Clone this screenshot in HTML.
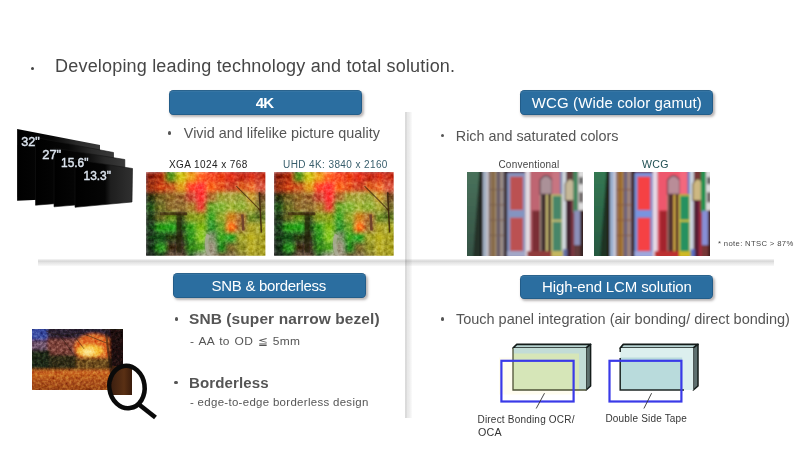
<!DOCTYPE html>
<html><head><meta charset="utf-8">
<style>
*{margin:0;padding:0;box-sizing:border-box}
html,body{width:800px;height:450px;overflow:hidden;background:#fff}
body{position:relative;font-family:"Liberation Sans",sans-serif;color:#555}
.a{position:absolute;white-space:nowrap;line-height:1}
.hdr{position:absolute;background:#2b6ea0;border-radius:4.5px;box-shadow:1.5px 2px 2.5px rgba(80,70,70,.4), inset 0 0 0 0.8px rgba(10,40,70,.3), inset 0 2px 0 rgba(255,255,255,.05)}
.dot{position:absolute;border-radius:50%}
.ph{position:absolute;overflow:hidden}
</style></head><body>
<svg width="0" height="0" style="position:absolute">
<defs>
<filter id="bl" x="-5%" y="-5%" width="110%" height="110%"><feGaussianBlur in="SourceGraphic" stdDeviation="2.3" result="b"/><feTurbulence type="fractalNoise" baseFrequency="0.3" numOctaves="2" seed="5" result="n"/><feColorMatrix in="n" type="matrix" values="0.9 0 0 0 0.05  0.9 0 0 0 0.05  0.9 0 0 0 0.05  0 0 0 0 1" result="g"/><feBlend in="g" in2="b" mode="soft-light"/></filter>
<filter id="bl2" x="-10%" y="-10%" width="120%" height="120%"><feGaussianBlur stdDeviation="0.7"/></filter>
<filter id="tex" x="0" y="0" width="100%" height="100%"><feTurbulence type="fractalNoise" baseFrequency="0.35" numOctaves="2" seed="3"/><feColorMatrix type="matrix" values="0 0 0 0 0  0 0 0 0 0  0 0 0 0 0  0 0 0 -1.4 0.75"/></filter>
<clipPath id="gclip"><rect x="0" y="0" width="119" height="83"/></clipPath>
<g id="garden">
<g clip-path="url(#gclip)">
<g filter="url(#bl)">
<rect x="-2" y="-2" width="12" height="12" fill="#7a2a1c"/>
<rect x="10" y="-2" width="10" height="12" fill="#9a3a20"/>
<rect x="20" y="-2" width="10" height="12" fill="#5a8a30"/>
<rect x="30" y="-2" width="10" height="12" fill="#c8c040"/>
<rect x="40" y="-2" width="10" height="12" fill="#d8a040"/>
<rect x="50" y="-2" width="10" height="12" fill="#e07040"/>
<rect x="60" y="-2" width="10" height="12" fill="#d05030"/>
<rect x="70" y="-2" width="10" height="12" fill="#c84a28"/>
<rect x="80" y="-2" width="10" height="12" fill="#c03a28"/>
<rect x="90" y="-2" width="10" height="12" fill="#a83020"/>
<rect x="100" y="-2" width="10" height="12" fill="#b83a28"/>
<rect x="110" y="-2" width="14" height="12" fill="#a83828"/>
<rect x="-2" y="10" width="12" height="10" fill="#8a3a22"/>
<rect x="10" y="10" width="10" height="10" fill="#b04a28"/>
<rect x="20" y="10" width="10" height="10" fill="#b05a30"/>
<rect x="30" y="10" width="10" height="10" fill="#d0a040"/>
<rect x="40" y="10" width="10" height="10" fill="#d84838"/>
<rect x="50" y="10" width="10" height="10" fill="#e04040"/>
<rect x="60" y="10" width="10" height="10" fill="#d86a30"/>
<rect x="70" y="10" width="10" height="10" fill="#c85a30"/>
<rect x="80" y="10" width="10" height="10" fill="#b04a30"/>
<rect x="90" y="10" width="10" height="10" fill="#c06030"/>
<rect x="100" y="10" width="10" height="10" fill="#d07040"/>
<rect x="110" y="10" width="14" height="10" fill="#c06050"/>
<rect x="-2" y="20" width="12" height="10" fill="#2a3018"/>
<rect x="10" y="20" width="10" height="10" fill="#706030"/>
<rect x="20" y="20" width="10" height="10" fill="#8a6a38"/>
<rect x="30" y="20" width="10" height="10" fill="#8a6038"/>
<rect x="40" y="20" width="10" height="10" fill="#b05040"/>
<rect x="50" y="20" width="10" height="10" fill="#d84040"/>
<rect x="60" y="20" width="10" height="10" fill="#a07040"/>
<rect x="70" y="20" width="10" height="10" fill="#a0a050"/>
<rect x="80" y="20" width="10" height="10" fill="#a8a858"/>
<rect x="90" y="20" width="10" height="10" fill="#98a050"/>
<rect x="100" y="20" width="10" height="10" fill="#c0a050"/>
<rect x="110" y="20" width="14" height="10" fill="#6a5030"/>
<rect x="-2" y="30" width="12" height="10" fill="#2a5020"/>
<rect x="10" y="30" width="10" height="10" fill="#6a6a30"/>
<rect x="20" y="30" width="10" height="10" fill="#8a7040"/>
<rect x="30" y="30" width="10" height="10" fill="#8a7040"/>
<rect x="40" y="30" width="10" height="10" fill="#a08040"/>
<rect x="50" y="30" width="10" height="10" fill="#c04038"/>
<rect x="60" y="30" width="10" height="10" fill="#70a040"/>
<rect x="70" y="30" width="10" height="10" fill="#8ab050"/>
<rect x="80" y="30" width="10" height="10" fill="#a0b050"/>
<rect x="90" y="30" width="10" height="10" fill="#90a848"/>
<rect x="100" y="30" width="10" height="10" fill="#a8a850"/>
<rect x="110" y="30" width="14" height="10" fill="#706838"/>
<rect x="-2" y="40" width="12" height="10" fill="#1a3018"/>
<rect x="10" y="40" width="10" height="10" fill="#6a6a34"/>
<rect x="20" y="40" width="10" height="10" fill="#6a8a30"/>
<rect x="30" y="40" width="10" height="10" fill="#3a4a20"/>
<rect x="40" y="40" width="10" height="10" fill="#8a9a38"/>
<rect x="50" y="40" width="10" height="10" fill="#8a9a30"/>
<rect x="60" y="40" width="10" height="10" fill="#4a9a38"/>
<rect x="70" y="40" width="10" height="10" fill="#90a040"/>
<rect x="80" y="40" width="10" height="10" fill="#c08838"/>
<rect x="90" y="40" width="10" height="10" fill="#a07040"/>
<rect x="100" y="40" width="10" height="10" fill="#708838"/>
<rect x="110" y="40" width="14" height="10" fill="#607030"/>
<rect x="-2" y="50" width="12" height="10" fill="#1a3a1a"/>
<rect x="10" y="50" width="10" height="10" fill="#38902c"/>
<rect x="20" y="50" width="10" height="10" fill="#3a9a30"/>
<rect x="30" y="50" width="10" height="10" fill="#2a4a1c"/>
<rect x="40" y="50" width="10" height="10" fill="#4a9a30"/>
<rect x="50" y="50" width="10" height="10" fill="#90b838"/>
<rect x="60" y="50" width="10" height="10" fill="#3a8a38"/>
<rect x="70" y="50" width="10" height="10" fill="#6a9a38"/>
<rect x="80" y="50" width="10" height="10" fill="#e07830"/>
<rect x="90" y="50" width="10" height="10" fill="#907040"/>
<rect x="100" y="50" width="10" height="10" fill="#a8a040"/>
<rect x="110" y="50" width="14" height="10" fill="#a0a040"/>
<rect x="-2" y="60" width="12" height="10" fill="#183018"/>
<rect x="10" y="60" width="10" height="10" fill="#1e4a1a"/>
<rect x="20" y="60" width="10" height="10" fill="#2a3a18"/>
<rect x="30" y="60" width="10" height="10" fill="#2a2a18"/>
<rect x="40" y="60" width="10" height="10" fill="#3a8a2a"/>
<rect x="50" y="60" width="10" height="10" fill="#90c040"/>
<rect x="60" y="60" width="10" height="10" fill="#808a70"/>
<rect x="70" y="60" width="10" height="10" fill="#4a9a30"/>
<rect x="80" y="60" width="10" height="10" fill="#3a9a38"/>
<rect x="90" y="60" width="10" height="10" fill="#a0a040"/>
<rect x="100" y="60" width="10" height="10" fill="#b0a838"/>
<rect x="110" y="60" width="14" height="10" fill="#a09a38"/>
<rect x="-2" y="70" width="12" height="10" fill="#142a14"/>
<rect x="10" y="70" width="10" height="10" fill="#3a8a30"/>
<rect x="20" y="70" width="10" height="10" fill="#3a2a18"/>
<rect x="30" y="70" width="10" height="10" fill="#3a2a20"/>
<rect x="40" y="70" width="10" height="10" fill="#3a7a28"/>
<rect x="50" y="70" width="10" height="10" fill="#5a9a30"/>
<rect x="60" y="70" width="10" height="10" fill="#a09888"/>
<rect x="70" y="70" width="10" height="10" fill="#2a7a28"/>
<rect x="80" y="70" width="10" height="10" fill="#706030"/>
<rect x="90" y="70" width="10" height="10" fill="#8a8a38"/>
<rect x="100" y="70" width="10" height="10" fill="#b0a840"/>
<rect x="110" y="70" width="14" height="10" fill="#a09a38"/>
<rect x="-2" y="80" width="12" height="16" fill="#142014"/>
<rect x="10" y="80" width="10" height="16" fill="#1a2a14"/>
<rect x="20" y="80" width="10" height="16" fill="#605040"/>
<rect x="30" y="80" width="10" height="16" fill="#605040"/>
<rect x="40" y="80" width="10" height="16" fill="#2a4a20"/>
<rect x="50" y="80" width="10" height="16" fill="#a0a090"/>
<rect x="60" y="80" width="10" height="16" fill="#a09888"/>
<rect x="70" y="80" width="10" height="16" fill="#605030"/>
<rect x="80" y="80" width="10" height="16" fill="#706040"/>
<rect x="90" y="80" width="10" height="16" fill="#8a8040"/>
<rect x="100" y="80" width="10" height="16" fill="#a09838"/>
<rect x="110" y="80" width="14" height="16" fill="#a09a38"/>
</g>
<g filter="url(#bl2)">
<rect x="14" y="40" width="27" height="3" fill="#302018" opacity="0.6"/>
<rect x="30.5" y="42" width="5" height="38" fill="#2a2416" opacity="0.6"/>
<path d="M62 62 Q58 72 63 83" stroke="#a8a898" stroke-width="3.5" fill="none" opacity="0.8"/>
<path d="M90 14 L104 28 L114 38" stroke="#3a2616" stroke-width="1.1" fill="none" opacity="0.7"/>
<path d="M113 20 L115 60" stroke="#3a2818" stroke-width="1.6" fill="none" opacity="0.8"/>
<path d="M96 42 L97 58" stroke="#6a4a38" stroke-width="2.5" fill="none"/>
</g>
</g>
</g>
</defs>
</svg>
<svg width="0" height="0" style="position:absolute">
<defs>
<filter id="db" x="-5%" y="-5%" width="110%" height="110%"><feGaussianBlur stdDeviation="0.8"/></filter>
<linearGradient id="gw" x1="0" y1="0" x2="0" y2="1"><stop offset="0" stop-color="#427458"/><stop offset="1" stop-color="#2e5442"/></linearGradient>
<g id="doors">
<g filter="url(#db)">
<rect x="-2" y="-2" width="120" height="87" fill="#6a3a3a"/>
<rect x="-2" y="-2" width="16" height="87" fill="url(#gw)"/>
<polygon points="6,84 12.5,-2 15.5,-2 15.5,84" fill="#223026"/>
<rect x="13" y="-2" width="2.7" height="87" fill="#1a1a18"/>
<rect x="15.7" y="-2" width="4" height="87" fill="#a0b0c8"/>
<rect x="19.7" y="-2" width="2" height="87" fill="#dcdce6"/>
<rect x="21.7" y="-2" width="16" height="87" fill="#5a3028"/>
<rect x="22.8" y="-2" width="0.8" height="87" fill="#b0a0a0"/>
<rect x="28" y="-2" width="0.8" height="87" fill="#d0b060"/>
<rect x="35.8" y="-2" width="0.8" height="87" fill="#9aa8c0"/>
<rect x="24.2" y="-2" width="1" height="87" fill="#c8a850"/>
<rect x="26.4" y="-2" width="1" height="87" fill="#c0a060"/>
<rect x="29.3" y="-2" width="1" height="87" fill="#8898b8"/>
<rect x="31.5" y="-2" width="1" height="87" fill="#8898b8"/>
<rect x="33.7" y="-2" width="1.2" height="87" fill="#d0c0b0"/>
<rect x="21.7" y="17" width="16" height="0.8" fill="#7a5a48"/>
<rect x="21.7" y="32" width="16" height="0.8" fill="#7a5a48"/>
<rect x="21.7" y="47" width="16" height="0.8" fill="#7a5a48"/>
<rect x="21.7" y="62" width="16" height="0.8" fill="#7a5a48"/>
<rect x="37.7" y="-2" width="3" height="87" fill="#2a1a14"/>
<rect x="40" y="1" width="18" height="83" fill="#8094cc"/>
<rect x="43" y="4.5" width="12.8" height="33" fill="#d04c4e"/>
<rect x="43" y="45" width="12.8" height="33.5" fill="#d04c4e"/>
<rect x="58" y="-2" width="5" height="87" fill="#e4dae4"/>
<rect x="63" y="-2" width="22" height="87" fill="#d06070"/>
<rect x="64.7" y="38" width="8" height="47" fill="#8a2a32"/>
<path d="M72.7 22 V8 Q78.7 -1 84.7 8 V22 Z" fill="#b09098" stroke="#604050" stroke-width="1.2"/>
<rect x="72.7" y="22" width="6" height="62" fill="#4a3030"/>
<rect x="72.7" y="22" width="0.8" height="62" fill="#c0b0a0"/>
<rect x="78.7" y="22" width="2" height="62" fill="#d0c060"/>
<rect x="80.7" y="22" width="3" height="62" fill="#3a2a28"/>
<rect x="84.7" y="-2" width="8" height="24" fill="#d87080"/>
<rect x="92.7" y="-2" width="2" height="24" fill="#6080c0"/>
<rect x="83.7" y="22" width="12" height="58" fill="#d0c060"/>
<rect x="85.3" y="23.5" width="8.8" height="23.5" fill="#3a8a66"/>
<rect x="85.3" y="49" width="8.8" height="29.5" fill="#3a8a66"/>
<rect x="94.7" y="-2" width="4" height="87" fill="#d0d8e0"/>
<path d="M97.7 28 V12 Q102.7 2 107.7 12 V28 Z" fill="#c8b890" stroke="#5a4a3a" stroke-width="1"/>
<rect x="98.7" y="28" width="5" height="57" fill="#4a2030"/>
<rect x="103.7" y="28" width="3" height="57" fill="#8a3040"/>
<rect x="105.7" y="-2" width="5" height="42" fill="#3a8a5a"/>
<rect x="106.7" y="38" width="6" height="34" fill="#8a90c4"/>
<rect x="110.7" y="-2" width="7" height="40" fill="#dcdcdc"/>
<rect x="112" y="5" width="3.3" height="7" fill="#505050"/>
<rect x="112" y="20" width="3.3" height="10" fill="#585050"/>
<rect x="112.7" y="38" width="5" height="47" fill="#3a2020"/>
<rect x="40" y="78" width="18" height="6" fill="#a0a8d0"/>
<rect x="83.7" y="78" width="12" height="6" fill="#c8b848"/>
<rect x="95.7" y="76" width="4" height="8" fill="#6070b0"/>
<rect x="60" y="78" width="24" height="6" fill="#a03838"/>
</g>
</g>
</defs>
</svg>
<svg style="position:absolute;left:0;top:0" width="150" height="220" viewBox="0 0 150 220">
<defs>
<linearGradient id="mg" x1="0" x2="1" y1="0" y2="0"><stop offset="0" stop-color="#000"/><stop offset="0.42" stop-color="#070707"/><stop offset="0.72" stop-color="#2a2a2a"/><stop offset="1" stop-color="#3a3a3a"/></linearGradient>
<linearGradient id="mg4" x1="0" x2="1" y1="0" y2="0"><stop offset="0" stop-color="#000"/><stop offset="0.52" stop-color="#050505"/><stop offset="0.62" stop-color="#1e1e1e"/><stop offset="1" stop-color="#303030"/></linearGradient>
</defs>
<polygon points="17.1,128.9 100,145 100,197 17.1,200.8" fill="url(#mg)"/>
<polygon points="35.5,137.5 113.5,152.5 113.5,199 35.5,205.2" fill="url(#mg)" stroke="#141414" stroke-width="0.6"/>
<polygon points="54,148 124.8,159.5 124.8,201 54,206.8" fill="url(#mg)" stroke="#141414" stroke-width="0.6"/>
<polygon points="75,159.5 132.5,168.5 132,202 75,207.3" fill="url(#mg4)" stroke="#141414" stroke-width="0.6"/>
<g fill="#dce4ee" stroke="#dce4ee" stroke-width="0.45" font-family="Liberation Sans" font-size="13.5">
<text x="21.3" y="145.6" textLength="18.5" lengthAdjust="spacingAndGlyphs">32"</text>
<text x="42.2" y="158.9" textLength="19" lengthAdjust="spacingAndGlyphs">27"</text>
<text x="61" y="167" textLength="27.5" lengthAdjust="spacingAndGlyphs">15.6"</text>
<text x="83.5" y="180" textLength="27.5" lengthAdjust="spacingAndGlyphs">13.3"</text>
</g>
<g fill="none" stroke="#dce4ee" stroke-width="0.5">
</g>
</svg>
<div class="dot" style="left:31.15px;top:66.55px;width:3.1px;height:3.1px;background:#444"></div>
<div class="a" style="left:55.1px;top:56.66px;font-size:18px;color:#464646;letter-spacing:0.18px">Developing leading technology and total solution.</div>
<div style="position:absolute;left:37.5px;top:259.3px;width:736.5px;height:7.5px;background:linear-gradient(#f6f6f6 0,#dbdbdb 1.9px,#d9d9d9 2.9px,#e5e5e5 3.6px,#ececec 5px,#f7f7f7 6.6px,#fff 7.5px)"></div>
<div style="position:absolute;left:404.8px;top:112px;width:7.7px;height:306px;mix-blend-mode:multiply;background:linear-gradient(90deg,#dadada 0,#dcdcdc 1.7px,#e7e7e7 2.1px,#ebebeb 4px,#f3f3f3 5.5px,#fff 7.7px)"></div>
<div class="hdr" style="left:168.7px;top:90.3px;width:193.1px;height:24.6px"></div>
<div class="hdr" style="left:520.1px;top:90.3px;width:192.9px;height:24.6px"></div>
<div class="hdr" style="left:172.7px;top:272.5px;width:192.9px;height:25.1px"></div>
<div class="hdr" style="left:520.4px;top:275px;width:192.2px;height:24.2px"></div>
<div class="a" style="left:255.8px;top:95.40px;font-size:15px;color:#fff;font-weight:bold;letter-spacing:-0.8px">4K</div>
<div class="a" style="left:531.8px;top:95.30px;font-size:15px;color:#fff;letter-spacing:0.12px">WCG (Wide color gamut)</div>
<div class="a" style="left:211.6px;top:277.90px;font-size:15px;color:#fff;letter-spacing:-0.3px">SNB &amp; borderless</div>
<div class="a" style="left:542.1px;top:279.40px;font-size:15px;color:#fff;letter-spacing:-0.14px">High-end LCM solution</div>
<div class="dot" style="left:167.70px;top:131.20px;width:3.6px;height:3.6px;background:#555"></div>
<div class="a" style="left:183.8px;top:126.11px;font-size:14.4px;color:#555;letter-spacing:0.01px">Vivid and lifelike picture quality</div>
<div class="dot" style="left:440.70px;top:133.70px;width:3.6px;height:3.6px;background:#555"></div>
<div class="a" style="left:455.79999999999995px;top:128.61px;font-size:14.4px;color:#555;letter-spacing:-0.02px">Rich and saturated colors</div>
<div class="dot" style="left:440.70px;top:317.10px;width:3.6px;height:3.6px;background:#555"></div>
<div class="a" style="left:455.95px;top:311.63px;font-size:14.5px;color:#555;letter-spacing:-0.01px">Touch panel integration (air bonding/ direct bonding)</div>
<div class="dot" style="left:174.70px;top:316.95px;width:3.6px;height:3.6px;background:#555"></div>
<div class="a" style="left:189.0px;top:311.93px;font-size:14.5px;color:#555;transform:scaleX(1.066);transform-origin:0 0;font-weight:bold;letter-spacing:0.1px">SNB (super narrow bezel)</div>
<div class="a" style="left:189.6px;top:335.52px;font-size:11.2px;color:#555;transform:scaleX(1.07);transform-origin:0 0;letter-spacing:0.25px;word-spacing:1.2px">- AA to OD ≦ 5mm</div>
<div class="dot" style="left:174.20px;top:380.90px;width:3.6px;height:3.6px;background:#555"></div>
<div class="a" style="left:189.2px;top:375.93px;font-size:14.5px;color:#555;transform:scaleX(1.04);transform-origin:0 0;font-weight:bold;letter-spacing:0.1px">Borderless</div>
<div class="a" style="left:189.6px;top:397.42px;font-size:11.2px;color:#555;transform:scaleX(1.024);transform-origin:0 0;letter-spacing:0.3px">- edge-to-edge borderless design</div>
<div class="a" style="left:168.9px;top:159.63px;font-size:10px;color:#222;letter-spacing:0.43px">XGA 1024 x 768</div>
<div class="a" style="left:283.09999999999997px;top:159.63px;font-size:10px;color:#385e6c;letter-spacing:0.39px">UHD 4K: 3840 x 2160</div>
<div class="a" style="left:498.4px;top:160.44px;font-size:10px;color:#444;letter-spacing:0.23px">Conventional</div>
<div class="a" style="left:641.6px;top:159.53px;font-size:10px;color:#1f4f52;transform:scaleX(1.06);transform-origin:0 0;letter-spacing:0.3px">WCG</div>
<div class="a" style="left:718px;top:239.58px;font-size:7.7px;color:#484848;letter-spacing:0.34px">* note: NTSC &gt; 87%</div>
<div class="a" style="left:477.5px;top:414.64px;font-size:10px;color:#363636;letter-spacing:0.2px">Direct Bonding OCR/</div>
<div class="a" style="left:477.5px;top:427.64px;font-size:10px;color:#333;transform:scaleX(1.07);transform-origin:0 0;letter-spacing:0.2px">OCA</div>
<div class="a" style="left:605.45px;top:414.44px;font-size:10px;color:#363636;letter-spacing:0.18px">Double Side Tape</div>
<svg class="ph" style="left:146.3px;top:172px;filter:saturate(1.3) contrast(1.08)" width="119.4" height="83.7" viewBox="0 0 119 83" preserveAspectRatio="none"><use href="#garden"/></svg>
<svg class="ph" style="left:273.9px;top:172px;filter:saturate(1.3) contrast(1.1)" width="119.7" height="83.7" viewBox="0 0 119 83" preserveAspectRatio="none"><use href="#garden"/></svg>
<svg class="ph" style="left:467.2px;top:172.4px;filter:saturate(0.8)" width="115.8" height="83.5" viewBox="0 0 115.3 82.3" preserveAspectRatio="none"><use href="#doors"/></svg>
<svg class="ph" style="left:593.9px;top:172.3px;filter:saturate(1.35)" width="116.6" height="83.6" viewBox="0 0 115.3 82.3" preserveAspectRatio="none"><use href="#doors"/></svg>
<svg style="position:absolute;left:31.9px;top:328.7px" width="91" height="61.5" viewBox="0 0 91 62" preserveAspectRatio="none">
<defs>
<filter id="sb" x="-10%" y="-10%" width="120%" height="120%"><feGaussianBlur in="SourceGraphic" stdDeviation="1.8" result="b"/><feTurbulence type="fractalNoise" baseFrequency="0.35" numOctaves="2" seed="9" result="n"/><feColorMatrix in="n" type="matrix" values="1.1 0 0 0 -0.05  1.1 0 0 0 -0.05  1.1 0 0 0 -0.05  0 0 0 0 1" result="g"/><feBlend in="g" in2="b" mode="soft-light"/></filter>
<filter id="sb2" x="-10%" y="-10%" width="120%" height="120%"><feGaussianBlur stdDeviation="0.7"/></filter>
<linearGradient id="gnd" x1="0" y1="0" x2="0" y2="1"><stop offset="0" stop-color="#d26a22"/><stop offset="0.4" stop-color="#b4561c"/><stop offset="1" stop-color="#8a3814"/></linearGradient>
<clipPath id="sclip"><rect x="0" y="0" width="91" height="62"/></clipPath>
</defs>
<g clip-path="url(#sclip)">
<g filter="url(#sb)">
<rect x="-5" y="-5" width="100" height="75" fill="#3a2418"/>
<rect x="-5" y="-5" width="100" height="16" fill="#2a2030"/>
<rect x="-5" y="-5" width="20" height="16" fill="#3848a0"/>
<rect x="-5" y="11" width="20" height="10" fill="#6a5068"/>
<rect x="15" y="10" width="30" height="16" fill="#7a4038"/>
<ellipse cx="62" cy="19" rx="20" ry="14" fill="#e06a26"/>
<rect x="-5" y="21" width="23" height="21" fill="#1e2612"/>
<rect x="18" y="26" width="26" height="16" fill="#2e2c14"/>
<rect x="44" y="29" width="36" height="12" fill="#6a4a1e"/>
<rect x="77" y="-5" width="20" height="75" fill="#1a100a"/>
<rect x="70" y="-5" width="22" height="6" fill="#201410"/>
<ellipse cx="58" cy="22" rx="13" ry="6" fill="#f6c43a"/>
<ellipse cx="56" cy="23" rx="6" ry="3" fill="#fde890"/>
<rect x="-5" y="41" width="84" height="26" fill="url(#gnd)"/>
</g>
<g filter="url(#sb2)" stroke="#22160e" fill="none" opacity="0.55">
<path d="M14 2 Q30 10 46 4" stroke-width="1"/>
<path d="M22 0 Q34 14 42 26" stroke-width="0.9"/>
<path d="M46 3 Q60 8 74 14" stroke-width="0.9"/>
<path d="M34 0 Q46 10 52 20" stroke-width="0.8"/>
<path d="M74 4 Q76 22 79 44" stroke-width="2.2"/>
</g>
</g>
</svg>
<div style="position:absolute;left:111.7px;top:365.9px;width:20.3px;height:29.5px;background:linear-gradient(90deg,#3e2010,#5a3014 60%,#3a1c0c)"></div>
<svg style="position:absolute;left:0;top:0" width="800" height="450" viewBox="0 0 800 450">
<!-- diagram 1 -->
<rect x="499" y="357.5" width="80" height="37" fill="#fffdf0"/>
<polygon points="513,348 516.8,344.4 590.6,344.4 586.2,348" fill="#b8d4d2" stroke="#141c1a" stroke-width="1.7" stroke-linejoin="round"/>
<polygon points="586.2,348 590.6,344.4 590.6,386 586.2,390" fill="#5e706e" stroke="#141c1a" stroke-width="1.5" stroke-linejoin="round"/>
<rect x="513" y="348" width="73.2" height="42" fill="#c2dcd6"/>
<rect x="513" y="353.5" width="66" height="36.5" fill="#d6e6b8"/>
<path d="M513 348 V390 H586.2" fill="none" stroke="#4e5236" stroke-width="1.3"/>
<rect x="501.4" y="360.8" width="72.2" height="40.7" fill="none" stroke="#3a3ae8" stroke-width="2.2"/>
<line x1="544.5" y1="393.2" x2="536.2" y2="408.5" stroke="#333" stroke-width="0.9"/>
<!-- diagram 2 -->
<polygon points="620.2,348 623.3,344.4 698,344.4 693.3,348" fill="#b8d4d4" stroke="#141c1a" stroke-width="1.7" stroke-linejoin="round"/>
<polygon points="693.3,348 698,344.4 698,386 693.3,390" fill="#5e7070" stroke="#141c1a" stroke-width="1.5" stroke-linejoin="round"/>
<rect x="620.2" y="348" width="73.1" height="42" fill="#dcefee"/>
<rect x="620.2" y="357.5" width="62" height="32.5" fill="#b9dbdc"/>
<path d="M620.2 348 V352 M620.2 358 V390 H684" fill="none" stroke="#1e2624" stroke-width="1.5"/>
<rect x="609.5" y="360.8" width="71.9" height="40.7" fill="none" stroke="#3a3ae8" stroke-width="2.2"/>
<line x1="651.6" y1="393.2" x2="643.9" y2="408.5" stroke="#333" stroke-width="0.9"/>
<!-- magnifier -->
<ellipse cx="127" cy="387" rx="17.6" ry="21.3" fill="none" stroke="#0a0a0a" stroke-width="4.6" transform="rotate(-8 127 387)"/>
<line x1="139" y1="404.5" x2="155.5" y2="417.5" stroke="#0a0a0a" stroke-width="4.6"/>
</svg>
</body></html>
